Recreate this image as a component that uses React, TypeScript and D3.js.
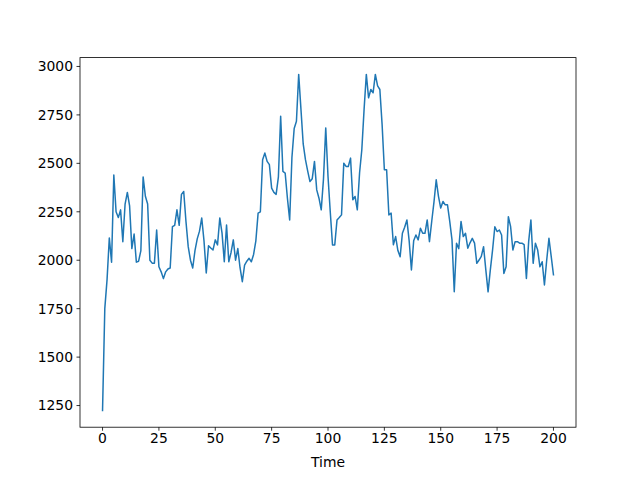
import React from 'react';
import * as d3 from 'd3';

// readings of the series, index = time step
const values: number[] = [
  1225, 1750, 1900, 2115, 1990, 2440, 2250, 2220, 2260, 2095,
  2290, 2350, 2280, 2060, 2135, 1990, 1995, 2050, 2430, 2330,
  2290, 2000, 1985, 1985, 2156, 1966, 1940, 1905, 1940, 1955,
  1960, 2173, 2180, 2260, 2180, 2340, 2355, 2200, 2070, 2000,
  1960, 2050, 2110, 2150, 2218, 2100, 1934, 2075, 2063, 2053,
  2105, 2079, 2218, 2140, 1992, 2182, 1992, 2040, 2105, 2000,
  2060, 1960, 1889, 1975, 1995, 2010, 1992, 2030, 2100, 2243,
  2250, 2519, 2553, 2510, 2493, 2372, 2350, 2340, 2430, 2743,
  2458, 2450, 2320, 2208, 2530, 2680, 2717, 2959, 2780, 2600,
  2519, 2460, 2406, 2420, 2510, 2363, 2320, 2260, 2420, 2683,
  2433, 2250, 2079, 2079, 2208, 2220, 2234, 2501, 2484, 2484,
  2527, 2312, 2329, 2260, 2450, 2570, 2777, 2959, 2838, 2881,
  2864, 2959, 2900, 2881, 2700, 2467, 2467, 2234, 2243, 2080,
  2122, 2050, 2018, 2139, 2170, 2208, 2100, 1950, 2100, 2130,
  2105, 2165, 2139, 2139, 2208, 2096, 2200, 2300, 2415, 2330,
  2269, 2303, 2286, 2286, 2200, 2105, 1837, 2088, 2060, 2200,
  2122, 2139, 2062, 2090, 2113, 2088, 1984, 2001, 2020, 2070,
  1950, 1837, 1950, 2053, 2173, 2148, 2156, 2130, 1932, 1966,
  2225, 2173, 2053, 2096, 2096, 2088, 2088, 2080, 1906, 2096,
  2208, 1984, 2088, 2053, 1966, 1992, 1872, 2000, 2113, 2020,
  1925,
];
const xTicks = [0, 25, 50, 75, 100, 125, 150, 175, 200];
const yTicks = [1250, 1500, 1750, 2000, 2250, 2500, 2750, 3000];
const xLabel = 'Time';

const W = 640, H = 480;
const left = 80, right = 576, top = 57.6, bottom = 427.2;

const App = () => {
  const n = values.length - 1;
  const x = d3.scaleLinear().domain([-n * 0.05, n * 1.05]).range([left, right]);
  const [lo, hi] = d3.extent(values) as [number, number];
  const pad = (hi - lo) * 0.05;
  const y = d3.scaleLinear().domain([lo - pad, hi + pad]).range([bottom, top]);

  const line = d3.line<number>()
    .x((d, i) => x(i))
    .y(d => y(d));

  const font = "'DejaVu Sans', sans-serif";

  return (
    <svg width={W} height={H} style={{ position: 'absolute', left: 0, top: 0, background: '#fff' }}>
      <rect x={0} y={0} width={W} height={H} fill="#fff" />
      <path d={line(values) || ''} fill="none" stroke="#1f77b4" strokeWidth={1.5}
        strokeLinejoin="round" strokeLinecap="square" />
      <rect x={left} y={top} width={right - left} height={bottom - top}
        fill="none" stroke="#000" strokeWidth={0.8} />
      {xTicks.map(t => (
        <g key={'x' + t} transform={`translate(${x(t)},${bottom})`}>
          <line y2={3.5} stroke="#000" strokeWidth={0.8} />
          <text y={17} textAnchor="middle" fontSize={13.9} fontFamily={font}
            dominantBaseline="hanging" dy={-12}>{t}</text>
        </g>
      ))}
      {yTicks.map(t => (
        <g key={'y' + t} transform={`translate(${left},${y(t)})`}>
          <line x2={-3.5} stroke="#000" strokeWidth={0.8} />
          <text x={-7} textAnchor="end" fontSize={13.9} fontFamily={font} dy="0.35em">{t}</text>
        </g>
      ))}
      <text x={(left + right) / 2} y={467} textAnchor="middle" fontSize={13.9} fontFamily={font}>{xLabel}</text>
    </svg>
  );
};

export default App;
